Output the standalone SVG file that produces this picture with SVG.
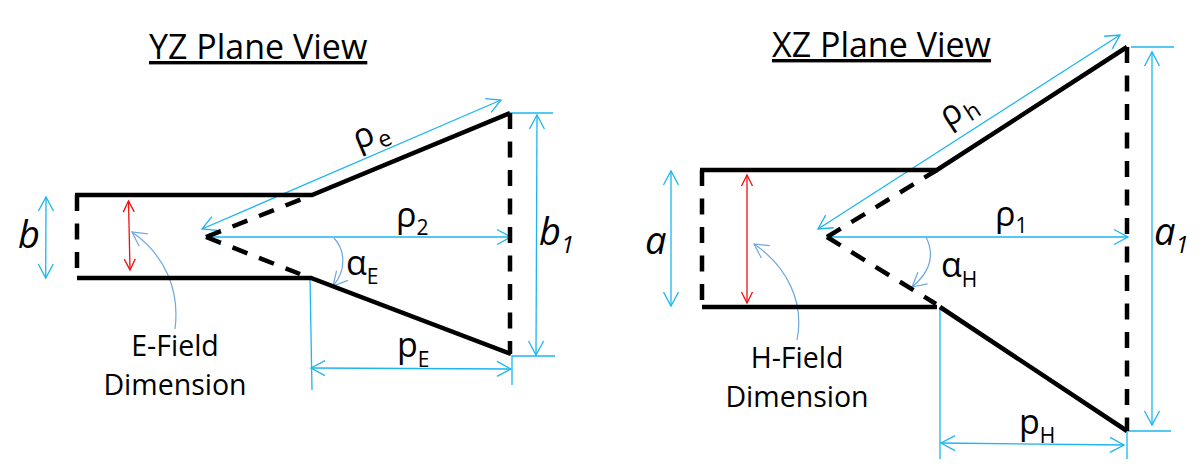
<svg xmlns="http://www.w3.org/2000/svg" width="1203" height="475" viewBox="0 0 1203 475">
<style>
text{font-family:"Open Sans","Noto Sans","Liberation Sans",sans-serif;fill:#000}
.t{font-size:34px;text-decoration:underline}
.l{font-size:28.500px;text-anchor:middle}
.m{font-size:34px}
.s{font-size:21px}
.r2{font-size:23px}
.i{font-size:38px;font-style:italic}
.is{font-size:24px;font-style:italic}
.w{fill:none;stroke:#000;stroke-width:4.500}
.d{fill:none;stroke:#000;stroke-width:4.500;stroke-dasharray:16 12.500}
.b{fill:none;stroke:#1CB5F0;stroke-width:1.300;marker-start:url(#ab);marker-end:url(#ab)}
.be{fill:none;stroke:#1CB5F0;stroke-width:1.300}
.r{fill:none;stroke:#F01010;stroke-width:1.300;marker-start:url(#ar);marker-end:url(#ar)}
.c{fill:none;stroke:#6FA8DC;stroke-width:1.200;marker-end:url(#ac)}
</style>
<defs>
<marker id="ab" markerUnits="userSpaceOnUse" markerWidth="18" markerHeight="18" refX="15" refY="9" orient="auto-start-reverse"><path d="M1 1.500L15 9L1 16.500" fill="none" stroke="#1CB5F0" stroke-width="1.300"/></marker>
<marker id="ar" markerUnits="userSpaceOnUse" markerWidth="14" markerHeight="14" refX="12" refY="7" orient="auto-start-reverse"><path d="M1 1.500L12 7L1 12.500" fill="none" stroke="#F01010" stroke-width="1.300"/></marker>
<marker id="ac" markerUnits="userSpaceOnUse" markerWidth="18" markerHeight="18" refX="15" refY="9" orient="auto"><path d="M1 1.500L15 9L1 16.500" fill="none" stroke="#6FA8DC" stroke-width="1.200"/></marker>
</defs>
<g id="connectors">
<path class="b" d="M46 197L45.700 278"/>
<path class="r" d="M128.500 201L130 270"/>
<path class="c" d="M175 329C180 290 165 255 132 232"/>
<path class="b" d="M202 229L501 100"/>
<path class="b" d="M207 237L511 237"/>
<path class="c" d="M334 238C345 250 347 270 333 286"/>
<path class="b" d="M537 115L536 355"/>
<path class="b" d="M311 368L511 369"/>
<path class="be" d="M510 113H553M512 385V356H555M310 278L312 390"/>
<path class="b" d="M671 171V306"/>
<path class="r" d="M747 175V303"/>
<path class="c" d="M797 340C805 300 785 265 754 244"/>
<path class="b" d="M818 229L1120 35"/>
<path class="b" d="M827 237H1128"/>
<path class="c" d="M926 237C935 255 930 272 912 287"/>
<path class="b" d="M1152 52V425"/>
<path class="b" d="M941 443L1124 445"/>
<path class="be" d="M1131 47H1174M1128 431H1171M1127 431V459M940 307V459"/>
</g>
<g id="yz-horn">
<path class="w" d="M75 195H312L510 113M77 278H311L511 354"/>
<path class="d" d="M77 195V278"/>
<path class="d" d="M510 113V354"/>
<path class="d" d="M206 237L302 199M206 237L300 274"/>
</g>
<g id="xz-horn">
<path class="w" d="M700 170H937L1127 47M702 307H937M940 307L1127 431"/>
<path class="d" d="M702 170V307"/>
<path class="d" d="M1127 47V431"/>
<path class="d" d="M827 237L937 170M827 237L936 304"/>
</g>
<g id="yz-labels">
<text class="t" x="149" y="59">YZ Plane View</text>
<text class="i" x="18" y="248">b</text>
<text class="m" x="358" y="150" transform="rotate(-23 358 150)">ρ<tspan class="r2" dx="2" dy="8">e</tspan></text>
<text class="m" x="396" y="227">ρ<tspan class="s" dy="8">2</tspan></text>
<text class="m" x="346" y="275">α<tspan class="s" dy="9">E</tspan></text>
<text class="m" x="397" y="357">p<tspan class="s" dy="10">E</tspan></text>
<text class="i" x="539" y="245">b<tspan class="is" dy="8">1</tspan></text>
<text class="l" x="175" y="356">E-Field</text>
<text class="l" x="175" y="395">Dimension</text>
</g>
<g id="xz-labels">
<text class="t" x="772" y="57">XZ Plane View</text>
<text class="i" x="645" y="254">a</text>
<text class="m" x="948" y="128" transform="rotate(-33 948 128)">ρ<tspan class="r2" dx="2" dy="7">h</tspan></text>
<text class="m" x="995" y="226">ρ<tspan class="s" dy="7">1</tspan></text>
<text class="m" x="941" y="277">α<tspan class="s" dy="10">H</tspan></text>
<text class="m" x="1019" y="434">p<tspan class="s" dy="9">H</tspan></text>
<text class="i" x="1154" y="245">a<tspan class="is" dy="8">1</tspan></text>
<text class="l" x="797" y="368">H-Field</text>
<text class="l" x="797" y="407">Dimension</text>
</g>
</svg>
